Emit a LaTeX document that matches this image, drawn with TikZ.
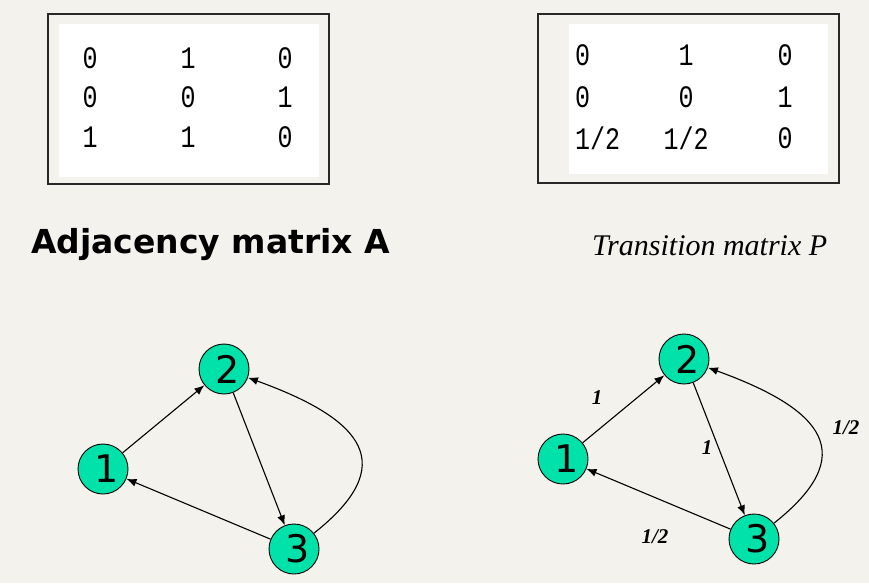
\documentclass[tikz,border=0pt]{standalone}
\usepackage{fontspec}
\usepackage{graphicx}
\setmainfont{DejaVu Sans}
\newfontfamily\monof{Liberation Mono}
\newfontfamily\titlef{DejaVu Sans}
\newfontfamily\italf{Liberation Serif}
\usetikzlibrary{arrows.meta}
\definecolor{bgc}{RGB}{243,242,236}
\definecolor{nodec}{RGB}{0,226,170}
\definecolor{framec}{RGB}{40,40,40}
\tikzset{
  vert/.style={circle,draw=black,line width=0.9pt,fill=nodec,minimum size=50pt,inner sep=0pt,font=\fontsize{38}{38}\selectfont},
  arr/.style={line width=1.1pt,-{Latex[length=10pt,width=8pt]}},
  frame/.style={draw=framec,line width=1.4pt,fill=bgc},
  inner/.style={fill=white,draw=none},
  entry/.style={inner sep=0pt,font=\fontsize{25}{25}\monof},
  elab/.style={inner sep=0pt,font=\fontsize{21}{21}\italf\bfseries\itshape},
}
\newcommand{\tallnum}[1]{\scalebox{1}[1.25]{#1}}
\newcommand{\vlab}[1]{\hspace*{7pt}#1}
\begin{document}
\begin{tikzpicture}[x=1pt,y=-1pt]
\fill[bgc] (0,0) rectangle (869,583);
\useasboundingbox (0,0) rectangle (869,583);
% left matrix
\draw[frame] (48,14) rectangle (329,184);
\fill[inner] (59,24) rectangle (319,177);
\node[entry] (a11) at (90,58) {\tallnum{0}};
\node[entry] (a12) at (188,58) {\tallnum{1}};
\node[entry] (a13) at (285,58) {\tallnum{0}};
\node[entry] (a21) at (90,97) {\tallnum{0}};
\node[entry] (a22) at (188,97) {\tallnum{0}};
\node[entry] (a23) at (285,97) {\tallnum{1}};
\node[entry] (a31) at (90,137) {\tallnum{1}};
\node[entry] (a32) at (188,137) {\tallnum{1}};
\node[entry] (a33) at (285,137) {\tallnum{0}};
% right matrix
\draw[frame] (538,14) rectangle (839,183);
\fill[inner] (569,24) rectangle (828,174);
\node[entry,anchor=west] (p11) at (575,55) {\tallnum{0}};
\node[entry] (p12) at (686,55) {\tallnum{1}};
\node[entry] (p13) at (785,55) {\tallnum{0}};
\node[entry,anchor=west] (p21) at (575,97) {\tallnum{0}};
\node[entry] (p22) at (686,97) {\tallnum{0}};
\node[entry] (p23) at (785,97) {\tallnum{1}};
\node[entry,anchor=west] (p31) at (575,138) {\tallnum{1/2}};
\node[entry] (p32) at (686,138) {\tallnum{1/2}};
\node[entry] (p33) at (785,138) {\tallnum{0}};
% titles
\node[anchor=base west,inner sep=0pt,font=\fontsize{33}{33}\titlef\bfseries] (ta) at (31,253) {Adjacency matrix A};
\node[anchor=base west,inner sep=0pt,font=\fontsize{30}{30}\italf\itshape] (tp) at (592,255) {Transition matrix P};
% left graph
\node[vert] (l1) at (103,469) {\vlab{1}};
\node[vert] (l2) at (224,369) {\vlab{2}};
\node[vert] (l3) at (294,549) {\vlab{3}};
\draw[arr] (l1) -- (l2);
\draw[arr] (l2) -- (l3);
\draw[arr] (l3) -- (l1);
\draw[arr] (l3) .. controls (400,465) and (365,420) .. (l2);
% right graph
\node[vert] (r1) at (563,459) {\vlab{1}};
\node[vert] (r2) at (684,359) {\vlab{2}};
\node[vert] (r3) at (754,539) {\vlab{3}};
\draw[arr] (r1) -- (r2);
\draw[arr] (r2) -- (r3);
\draw[arr] (r3) -- (r1);
\draw[arr] (r3) .. controls (860,455) and (825,410) .. (r2);
\node[elab] (e12) at (597,398) {1};
\node[elab] (e23) at (707,448) {1};
\node[elab] (e32) at (846,428) {1/2};
\node[elab] (e31) at (655,537) {1/2};
\end{tikzpicture}
\end{document}
